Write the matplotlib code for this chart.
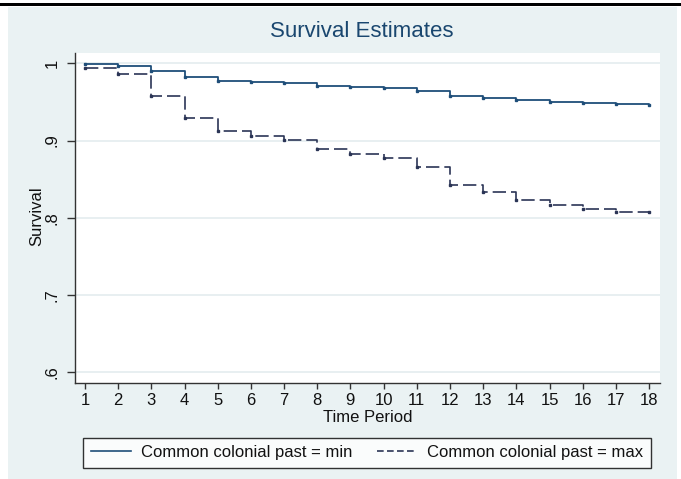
import matplotlib
matplotlib.use("Agg")
import matplotlib.pyplot as plt
from matplotlib.patches import Rectangle
from matplotlib.lines import Line2D

# Kaplan-Meier style survival estimates
time_period = list(range(1, 19))
surv_min = [0.9987, 0.9969, 0.9896, 0.9818, 0.9766, 0.9753, 0.9744, 0.9705, 0.9688,
            0.9675, 0.9640, 0.9580, 0.9553, 0.9520, 0.9500, 0.9484, 0.9475, 0.9463]
surv_max = [0.9935, 0.9865, 0.9580, 0.9290, 0.9120, 0.9060, 0.9010, 0.8890, 0.8826,
            0.8774, 0.8657, 0.8429, 0.8340, 0.8225, 0.8170, 0.8110, 0.8070, 0.8070]
y_ticks = [0.6, 0.7, 0.8, 0.9, 1.0]
y_tick_labels = ['.6', '.7', '.8', '.9', '1']
legend_labels = ['Common colonial past = min', 'Common colonial past = max']

plt.rcParams['font.family'] = ['Liberation Sans', 'DejaVu Sans']

W, H = 681, 479
fig = plt.figure(figsize=(W / 100, H / 100), dpi=100, facecolor='white')

# graph region background and the black rule on top
fig.patches.append(Rectangle((8 / W, 0), 669 / W, (H - 7) / H, transform=fig.transFigure,
                             facecolor='#eaf2f3', edgecolor='none', zorder=-10))
fig.patches.append(Rectangle((0, 1 - 6 / H), 1, 3 / H, transform=fig.transFigure,
                             facecolor='black', edgecolor='none', zorder=-10))

ax = fig.add_axes([75 / W, 1 - 383 / H, 585 / W, 330 / H])
ax.set_facecolor('white')

navy = '#1f4e79'
dark = '#2b3556'
ax.step(time_period, surv_min, where='post', color=navy, lw=1.3, zorder=3)
ax.plot(time_period, surv_min, ls='none', marker='s', ms=1.7, color=navy, zorder=3)
ax.step(time_period, surv_max, where='post', color=dark, lw=1.2, dashes=(8, 3), zorder=3)
ax.plot(time_period, surv_max, ls='none', marker='s', ms=1.7, color=dark, zorder=3)

ax.set_xlim(0.70, 18.33)
ax.set_ylim(0.586, 1.0134)
ax.set_xticks(time_period)
ax.set_yticks(y_ticks)
ax.set_yticklabels(y_tick_labels, rotation=90, va='center')
ax.yaxis.grid(True, color='#e6eef0', lw=1.3)
ax.set_axisbelow(True)

for side in ['top', 'right']:
    ax.spines[side].set_visible(False)
for side in ['left', 'bottom']:
    ax.spines[side].set_color('#333333')
    ax.spines[side].set_linewidth(1.0)

ax.tick_params(axis='x', direction='out', length=4.5, width=1.0, color='#333333',
               labelsize=12, pad=3, labelcolor='#111111')
ax.tick_params(axis='y', direction='out', length=5.8, width=1.0, color='#333333',
               labelsize=12, pad=5, labelcolor='#111111')

ax.set_xlabel('Time Period', fontsize=12, color='#111111')
ax.xaxis.set_label_coords(0.5, -0.082)
ax.set_ylabel('Survival', fontsize=12, color='#111111')
ax.yaxis.set_label_coords(-0.052, 0.506)

fig.text(362 / W, 1 - 31.5 / H, 'Survival Estimates', ha='center', va='center',
         fontsize=16, color='#1a476f')

handles = [Line2D([], [], color=navy, lw=1.2),
           Line2D([], [], color=dark, lw=1.2, dashes=(4, 2))]
leg = fig.legend(handles, legend_labels, loc='center', ncol=2,
                 bbox_to_anchor=(366.9 / W, 1 - 452.7 / H), fontsize=12,
                 handlelength=2.4, handletextpad=0.6, columnspacing=1.5,
                 borderpad=0.45, frameon=True, fancybox=False)
leg.get_frame().set_edgecolor('black')
leg.get_frame().set_linewidth(1.0)
leg.get_frame().set_facecolor('white')
for t in leg.get_texts():
    t.set_color('#111111')

fig.savefig('out.png', dpi=100, facecolor='white')
